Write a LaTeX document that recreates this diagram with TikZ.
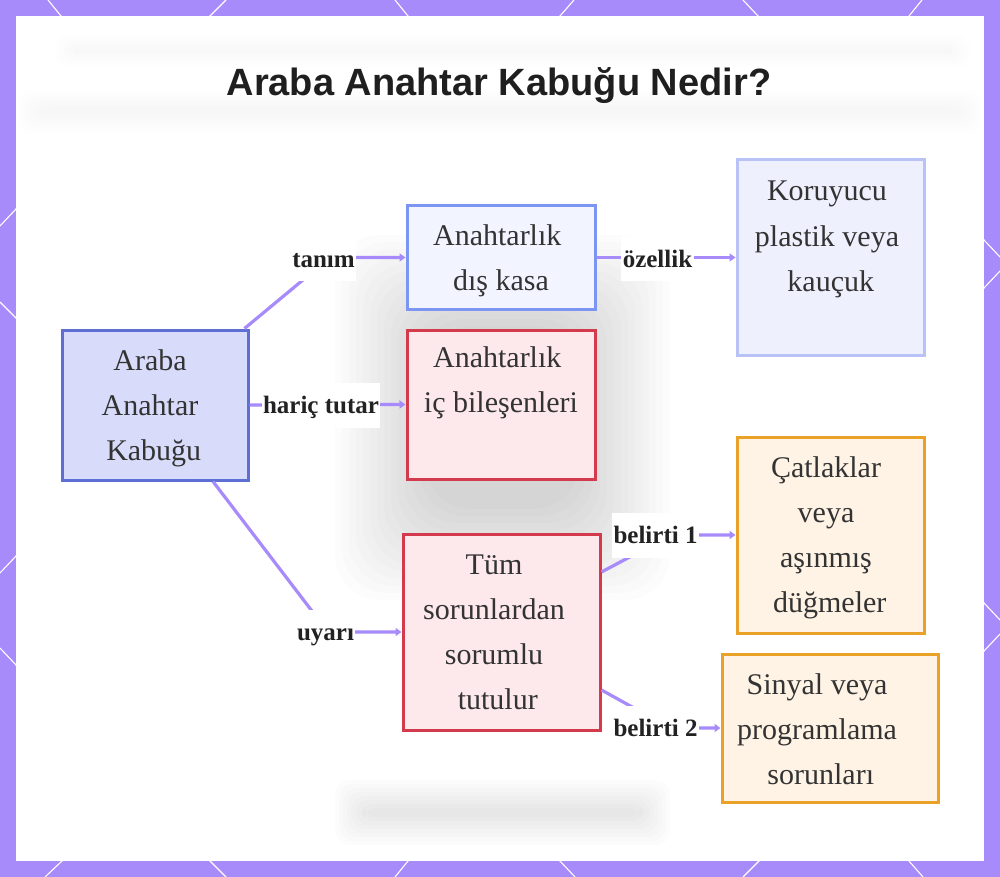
\documentclass[tikz,border=0pt]{standalone}
\usepackage{fontspec}
\setmainfont{Liberation Serif}
\newfontfamily\titlefont{Liberation Sans}
\usetikzlibrary{arrows.meta,calc}
\definecolor{framec}{HTML}{A78BFA}
\definecolor{connc}{HTML}{A78BFA}
\definecolor{textc}{HTML}{333333}
\definecolor{labc}{HTML}{222222}
\definecolor{bAf}{HTML}{D8DCFA}\definecolor{bAd}{HTML}{5E6FD3}
\definecolor{bBf}{HTML}{F2F4FF}\definecolor{bBd}{HTML}{7C95F2}
\definecolor{bCf}{HTML}{EEF0FD}\definecolor{bCd}{HTML}{B9C2F7}
\definecolor{bRf}{HTML}{FDE8EC}\definecolor{bRd}{HTML}{D33A4C}
\definecolor{bOf}{HTML}{FEF3E5}\definecolor{bOd}{HTML}{E9A128}
\tikzset{
  box/.style={draw, line width=3pt, rectangle, inner sep=0pt},
  boxtext/.style={align=center, font=\fontsize{30}{45}\selectfont, text=textc, inner sep=0pt},
  lab/.style={fill=white, font=\bfseries\fontsize{25}{30}\selectfont, text=labc,
    inner xsep=1.5pt, inner ysep=11pt, text height=20pt, text depth=3pt},
  conn/.style={draw=connc, line width=3.2pt, -{Triangle[length=6pt,width=8pt]}},
  deco/.style={draw=white, line width=1.1pt},
}
\begin{document}
\begin{tikzpicture}[x=1pt,y=-1pt]
\useasboundingbox (0,0) rectangle (1000,877);
% frame
\fill[framec] (0,0) rectangle (1000,877);
\draw[deco] (48,0) -- (74,32);   \draw[deco] (226,0) -- (194,32);
\draw[deco] (395,0) -- (421,32); \draw[deco] (574,0) -- (546,32);
\draw[deco] (743,0) -- (773,32); \draw[deco] (922,0) -- (896,32);
\draw[deco] (45,877) -- (79,845);   \draw[deco] (226,877) -- (194,845);
\draw[deco] (395,877) -- (421,845); \draw[deco] (575,877) -- (545,845);
\draw[deco] (743,877) -- (775,845); \draw[deco] (923,877) -- (895,845);
\draw[deco] (0,226) -- (32,192); \draw[deco] (0,302) -- (32,334);
\draw[deco] (0,573) -- (32,539); \draw[deco] (0,648) -- (32,682);
\draw[deco] (1000,257) -- (968,223); \draw[deco] (1000,271) -- (968,305);
\draw[deco] (1000,620) -- (968,586); \draw[deco] (1000,634) -- (968,668);
\fill[white] (16,16) rectangle (984,861);
% faint blurred background
\foreach \i in {0,...,13} {
  \fill[black, opacity=0.013, rounded corners=45pt] (335+\i*7, 235+\i*7) rectangle (670-\i*7, 600-\i*7);
}
\foreach \i in {0,...,7} {
  \fill[black, opacity=0.012, rounded corners=14pt] (335+\i*4, 780+\i*4) rectangle (670-\i*4, 845-\i*4);
  \fill[black, opacity=0.005, rounded corners=12pt] (55+\i*3, 34+\i*2.5) rectangle (970-\i*3, 68-\i*2.5);
  \fill[black, opacity=0.005, rounded corners=12pt] (18+\i*3, 90+\i*2.5) rectangle (982-\i*3, 134-\i*2.5);
}
% title
\node[font=\titlefont\bfseries\fontsize{38}{44}\selectfont, anchor=base, text=black!88] (title) at (499,96) {Araba Anahtar Kabuğu Nedir?};
% boxes
\node[box, draw=bAd, fill=bAf, minimum width=186pt, minimum height=150pt] (b1) at (155,405) {};
\node[box, draw=bBd, fill=bBf, minimum width=188pt, minimum height=103pt] (b2) at (501,257.5) {};
\node[box, draw=bCd, fill=bCf, minimum width=187pt, minimum height=195pt] (b3) at (830.5,257.5) {};
\node[box, draw=bRd, fill=bRf, minimum width=188pt, minimum height=149pt] (b4) at (501,404.5) {};
\node[box, draw=bRd, fill=bRf, minimum width=197pt, minimum height=196pt] (b5) at (501.5,632) {};
\node[box, draw=bOd, fill=bOf, minimum width=187pt, minimum height=196pt] (b6) at (830.5,535) {};
\node[box, draw=bOd, fill=bOf, minimum width=216pt, minimum height=148pt] (b7) at (830,728) {};
% box texts
\node[boxtext] (t1) at (150,406) {\strut Araba\\Anahtar\\\hspace*{.25em}Kabuğu\strut};
\node[boxtext] (t2) at (501,258.5) {\strut Anahtarlık\hspace*{.25em}\\dış kasa\strut};
\node[boxtext] (t3) at (827,237) {\strut Koruyucu\\plastik veya\\\hspace*{.25em}kauçuk\strut};
\node[boxtext] (t4) at (501,381) {\strut Anahtarlık\hspace*{.25em}\\iç bileşenleri\strut};
\node[boxtext] (t5) at (494,632.5) {\strut Tüm\\sorunlardan\\sorumlu\\\hspace*{.25em}tutulur\strut};
\node[boxtext] (t6) at (826,536) {\strut Çatlaklar\\veya\\aşınmış\\\hspace*{.25em}düğmeler\strut};
\node[boxtext] (t7) at (817,730) {\strut Sinyal veya\\programlama\\\hspace*{.25em}sorunları\strut};
% connectors
\coordinate (k1) at (330,257.5);
\coordinate (k3) at (328,632);
\coordinate (k5) at (671,535);
\coordinate (k6) at (670,728);
\draw[conn] ($(b1.north east)+(-5,0)$) -- (k1) -- (b2.west);
\draw[conn] (b1.east) -- (b4.west);
\draw[conn] ($(b1.south)+(58,0)$) -- (k3) -- (b5.west);
\draw[conn] (b2.east) -- (b3.west);
\draw[conn] ($(b5.east)+(0,-60)$) -- (k5) -- (b6.west);
\draw[conn] ($(b5.east)+(0,58)$) -- (k6) -- (b7.west);
% labels
\node[lab] (l1) at (323.5,258.5) {tanım};
\node[lab] (l2) at (321,405) {hariç tutar};
\node[lab] (l3) at (325.5,632) {uyarı};
\node[lab] (l4) at (657.5,258.5) {özellik};
\node[lab] (l5) at (655.5,535) {belirti 1};
\node[lab] (l6) at (655.5,728) {belirti 2};
\end{tikzpicture}
\end{document}
